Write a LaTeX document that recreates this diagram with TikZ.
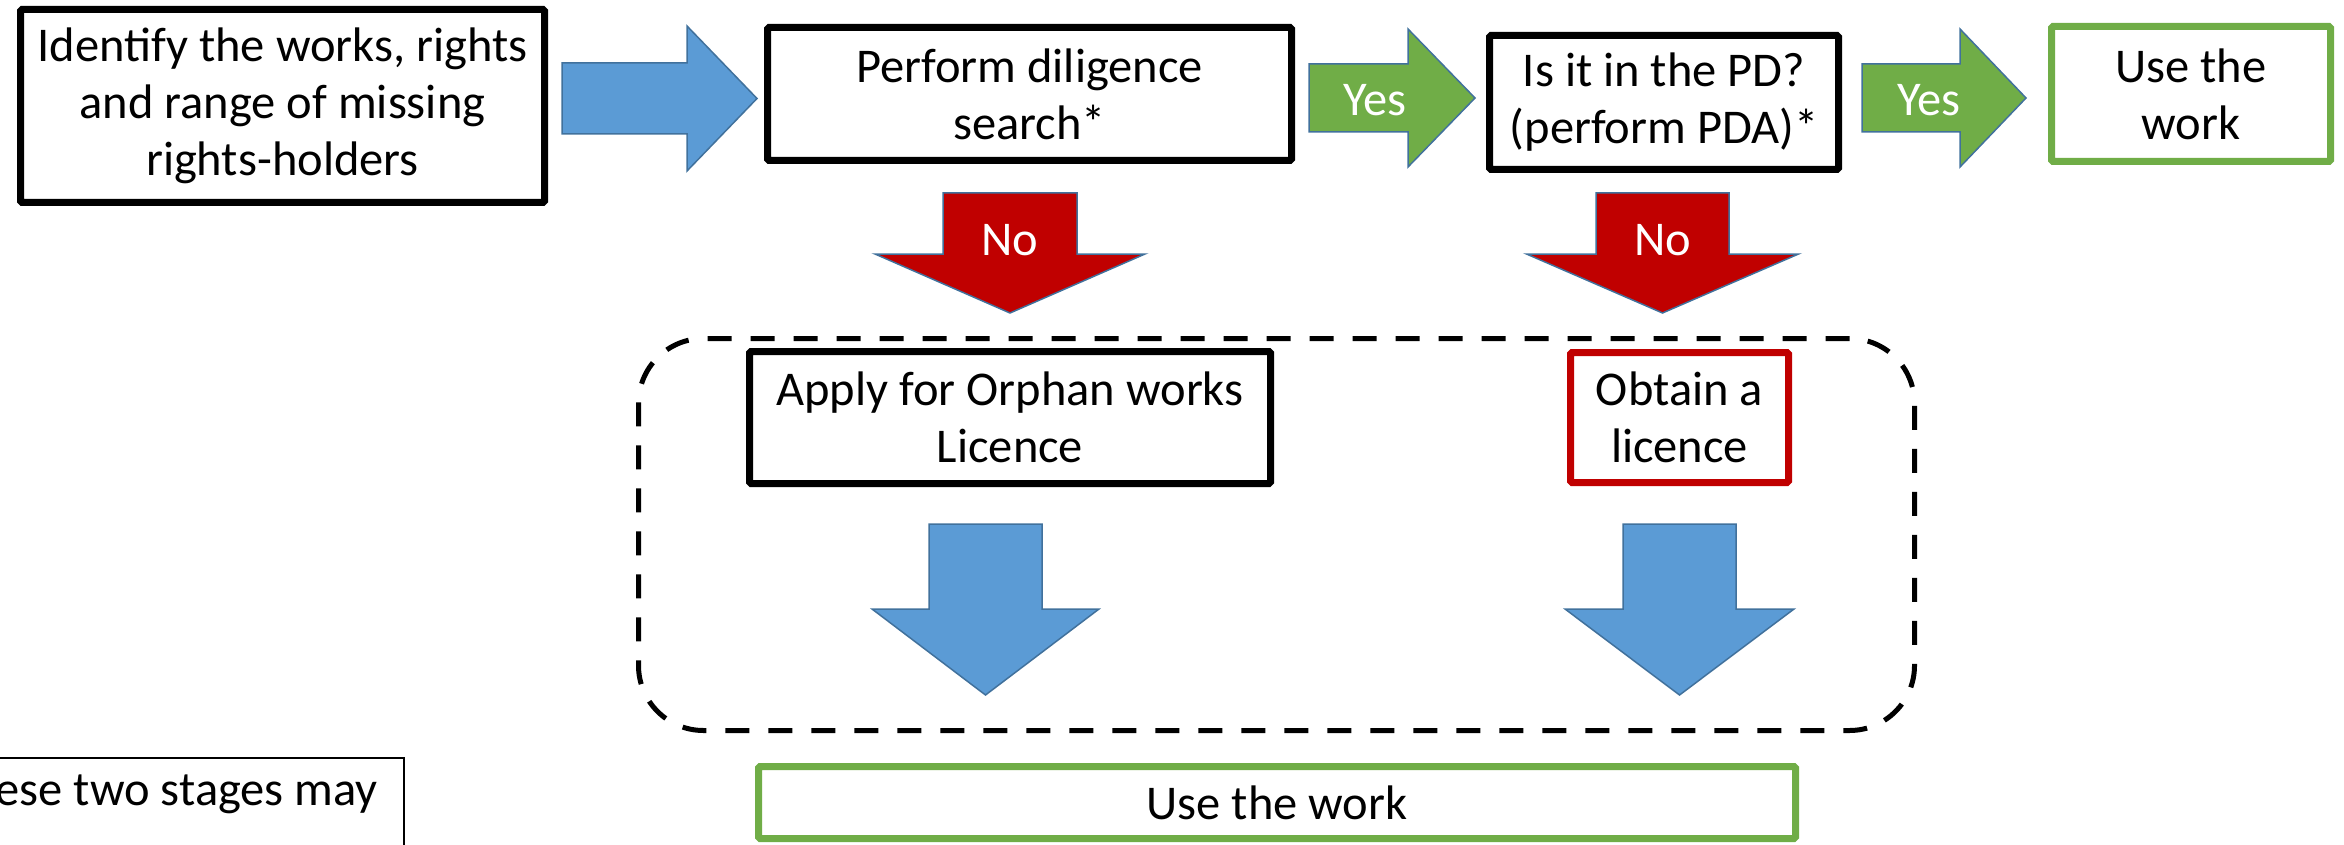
\documentclass[tikz,border=0pt]{standalone}
\usepackage{fontspec}
\setmainfont{Carlito}
\definecolor{okgreen}{HTML}{70AD47}
\definecolor{nored}{HTML}{C00000}
\definecolor{flowblue}{HTML}{5B9BD5}
\definecolor{arrowedge}{HTML}{41719C}
\tikzset{
  stagebox/.style={draw=black, line width=7pt, fill=white, align=center, inner sep=0pt, rounded corners=1.5pt},
  greenbox/.style={stagebox, draw=okgreen},
  redbox/.style={stagebox, draw=nored},
  arrowlabel/.style={text=white, inner sep=0pt},
  blockarrow/.style={line width=1.5pt, draw=arrowedge, line join=miter},
}
% right-pointing block arrow: fill, x start, x head base, x tip, y centre, shaft half, head half
\newcommand\myRightArrow[7]{\filldraw[blockarrow, fill=#1] (#2,{#5-#6}) -- (#3,{#5-#6}) -- (#3,{#5-#7}) -- (#4,#5) -- (#3,{#5+#7}) -- (#3,{#5+#6}) -- (#2,{#5+#6}) -- cycle;}
% down-pointing block arrow: fill, y start, y head base, y tip, x centre, shaft half, head half
\newcommand\myDownArrow[7]{\filldraw[blockarrow, fill=#1] ({#5-#6},#2) -- ({#5-#6},#3) -- ({#5-#7},#3) -- (#5,#4) -- ({#5+#7},#3) -- ({#5+#6},#3) -- ({#5+#6},#2) -- cycle;}
\begin{document}
\begin{tikzpicture}[x=1pt, y=-1pt, font=\fontsize{48.5}{57}\selectfont]
\useasboundingbox (0,0) rectangle (2344,845);
\clip (0,0) rectangle (2344,845);

% dashed group frame
\node[draw=black, line width=5pt, dash pattern=on 24pt off 19pt, rounded corners=65pt,
      minimum width=1276pt, minimum height=392pt, inner sep=0pt] (group) at (1276.5,534.5) {};

% top row
\node[stagebox, minimum width=524pt, minimum height=193pt] (identify) at (282.5,106)
  {Identify the works, rights\\and range of missing\\rights-holders};
\node[stagebox, minimum width=524pt, minimum height=133pt] (search) at (1029.5,94)
  {Perform diligence\\search*};
\node[stagebox, minimum width=349pt, minimum height=134pt] (pd) at (1664,102.5)
  {Is it in the PD?\\(perform PDA)*};
\node[greenbox, minimum width=279pt, minimum height=135pt] (usetop) at (2191,94)
  {Use the\\work};

% block arrows, top row
\myRightArrow{flowblue}{562}{687}{757}{98.5}{35.5}{72.5}
\myRightArrow{okgreen}{1309}{1408}{1475}{98}{34}{69}
\myRightArrow{okgreen}{1862}{1960}{2026}{98}{34}{69}
\node[arrowlabel] (yes1) at (1375,100) {Yes};
\node[arrowlabel] (yes2) at (1929,100) {Yes};

% No arrows
\myDownArrow{nored}{193}{254}{313}{1010}{67}{135}
\myDownArrow{nored}{193}{254}{313}{1662.5}{66.5}{136}
\node[arrowlabel] (no1) at (1010,240) {No};
\node[arrowlabel] (no2) at (1662.5,240) {No};

% inside group
\node[stagebox, minimum width=521pt, minimum height=132pt] (orphan) at (1010,417.5)
  {Apply for Orphan works\\Licence};
\node[redbox, minimum width=218pt, minimum height=130pt] (licence) at (1679.5,417.5)
  {Obtain a\\licence};
\myDownArrow{flowblue}{524}{609}{695}{985.5}{56.5}{113.5}
\myDownArrow{flowblue}{524}{609}{695}{1679.5}{56.5}{114.5}

% bottom
\node[greenbox, minimum width=1037pt, minimum height=72pt] (usebottom) at (1277,802.5)
  {Use the work};

% note box (cut by the page edge)
\node[draw=black, line width=1.8pt, minimum width=500pt, minimum height=150pt, inner sep=0pt,
      anchor=north east] (note) at (405,757) {};
\node[anchor=base east, inner sep=0pt] (notetext) at (378,805) {These two stages may};
\end{tikzpicture}
\end{document}
